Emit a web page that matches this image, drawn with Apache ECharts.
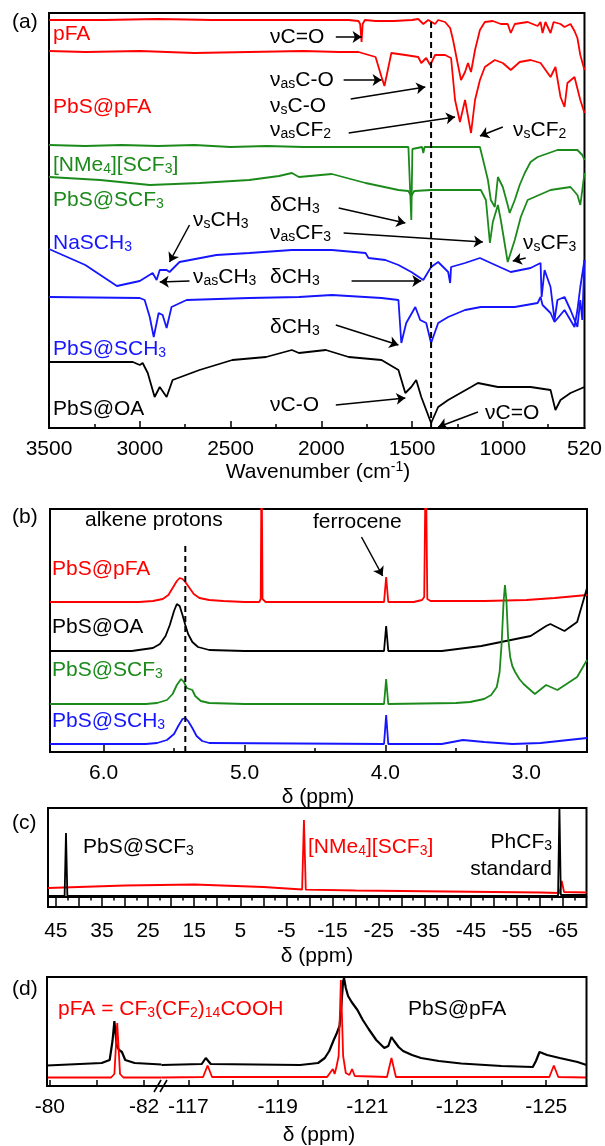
<!DOCTYPE html>
<html>
<head>
<meta charset="utf-8">
<script src="https://cdn.jsdelivr.net/npm/echarts@6/dist/echarts.min.js"></script>
<style>
html,body{margin:0;padding:0;background:#fff;}
#chart{width:605px;height:1146px;}
</style>
</head>
<body>
<div id="chart"></div>
<script>
// (a) FTIR: [wavenumber, offset transmittance (arb.)]
var irPFA = [[3500,408],[3200,408],[2900,409],[2600,408],[2300,408],[2000,408],[1850,408],[1795,407],[1786,404],[1778,386],[1772,404],[1760,408],[1700,407],[1600,407],[1500,408],[1466,409],[1438,404],[1411,408],[1373,404],[1356,408],[1318,406],[1290,400],[1274,388],[1247,363],[1230,348],[1208,356],[1192,365],[1175,356],[1153,378],[1126,398],[1099,406],[1055,407],[1011,404],[973,404],[956,395],[934,404],[863,406],[808,402],[792,406],[781,395],[765,406],[737,395],[720,406],[682,404],[660,401],[627,404],[605,397],[589,390],[573,373],[550,358]];
var irPbSpFA = [[3500,377],[3300,376],[3000,377],[2700,375],[2400,376],[2100,377],[1900,376],[1795,376],[1701,371],[1668,351],[1652,342],[1630,361],[1614,375],[1537,373],[1466,371],[1449,365],[1422,370],[1400,363],[1373,373],[1318,373],[1285,370],[1263,328],[1236,306],[1208,328],[1175,295],[1153,328],[1126,348],[1099,361],[1044,368],[1000,365],[956,358],[907,366],[847,368],[792,365],[737,351],[710,361],[682,331],[660,321],[644,345],[605,351],[573,328],[550,315]];
var irNMe4SCF3 = [[3500,283],[3300,282],[3100,283],[2900,282],[2700,283],[2500,281],[2300,282],[2100,281],[1900,281],[1700,281],[1520,281],[1510,279],[1504,208],[1498,279],[1490,281],[1445,281],[1438,275],[1431,281],[1300,281],[1126,281],[1099,261],[1082,248],[1066,228],[1044,221],[1027,251],[1000,241],[973,223],[962,215],[934,228],[907,243],[879,255],[847,266],[808,271],[699,278],[589,278],[562,273],[550,268]];
var irPbSSCF3 = [[3500,251],[3218,248],[2945,243],[2671,245],[2397,248],[2233,252],[2162,255],[2123,251],[1942,254],[1756,245],[1575,238],[1521,237],[1504,232],[1488,237],[1395,238],[1121,238],[1093,228],[1071,185],[1055,206],[1027,223],[1011,208],[973,166],[934,188],[901,211],[863,228],[737,238],[627,241],[589,233],[573,223],[562,238],[550,255]];
var irNaSCH3 = [[3500,179],[3300,163],[3126,142],[3000,147],[2929,155],[2907,148],[2890,158],[2879,160],[2852,158],[2836,156],[2781,166],[2578,173],[2397,175],[2162,178],[1942,178],[1756,175],[1740,170],[1647,168],[1575,163],[1504,156],[1438,148],[1395,161],[1356,166],[1301,156],[1290,145],[1285,161],[1208,165],[1126,170],[1066,165],[956,156],[847,160],[792,165],[786,131],[770,158],[737,141],[715,108],[699,128],[660,131],[627,118],[589,101],[573,128],[562,108],[550,168]];
var irPbSSCH3 = [[3500,131],[3000,130],[2973,128],[2945,111],[2923,91],[2896,115],[2874,113],[2852,100],[2825,121],[2742,128],[2397,130],[2123,131],[1942,133],[1668,130],[1575,128],[1559,85],[1532,105],[1482,121],[1455,108],[1422,105],[1395,85],[1356,105],[1301,111],[1208,118],[1121,121],[934,121],[808,125],[792,131],[781,123],[737,115],[715,106],[660,118],[605,101],[589,118],[573,141],[550,168]];
var irPbSOA = [[3500,66],[3038,66],[3000,63],[2984,65],[2956,55],[2918,31],[2890,41],[2852,31],[2819,48],[2671,58],[2490,68],[2304,71],[2162,78],[2123,75],[1975,78],[1849,71],[1668,68],[1575,58],[1537,35],[1504,41],[1477,48],[1449,31],[1395,5],[1356,21],[1301,28],[1175,41],[1137,45],[1027,41],[847,41],[737,38],[710,18],[682,28],[627,35],[550,41]];
var irGuide = [[1395,0],[1395,410]];
var irTicks = [3500,3000,2500,2000,1500,1000];
var irMinorTicks = [3250,2750,2250,1750,1250,750];
var irLabelAt = [3500,3000,2500,2000,1500,1000,550];
var irLabels = ['3500','3000','2500','2000','1500','1000','520'];
// arrows: [x tail, y tail, x head, y head]
var irArrows = [[1920,391,1778,391],[1877,348,1668,348],[1838,329,1427,341],[1849,295,1263,311],[1000,301,1126,292],[1904,220,1537,205],[1877,195,1110,186],[874,170,945,167],[2726,203,2836,166],[2726,147,2890,146],[1833,147,1449,147],[1920,103,1575,83],[1920,23,1537,30],[1137,16,1356,1]];

// (b) 1H NMR: [ppm, offset intensity]
var hPbSpFA = [[6.38,150],[6.0,150],[5.75,150],[5.65,151],[5.58,153],[5.54,157],[5.51,164],[5.48,171],[5.46,174],[5.44,173],[5.42,170],[5.39,164],[5.36,158],[5.32,154],[5.25,152],[5.15,151],[5.0,150],[4.895,150],[4.885,153],[4.879,300],[4.872,153],[4.85,150],[4.2,150],[4.01,150],[3.995,175],[3.98,150],[3.8,150],[3.74,152],[3.725,155],[3.714,300],[3.703,153],[3.68,151],[3.3,151],[3.0,152],[2.8,154],[2.57,157]];
var hPbSOA = [[6.38,101],[5.8,101],[5.75,102],[5.65,104],[5.6,108],[5.56,116],[5.53,127],[5.5,141],[5.48,148],[5.46,146],[5.44,137],[5.42,127],[5.4,118],[5.37,110],[5.33,105],[5.25,102],[5.0,101],[4.01,101],[3.995,126],[3.98,101],[3.6,101],[3.32,106],[2.97,116],[2.86,126],[2.83,128],[2.73,121],[2.64,130],[2.57,164]];
var hPbSSCF3 = [[6.38,48],[5.7,48],[5.62,49],[5.55,52],[5.51,58],[5.48,67],[5.45,73],[5.43,70],[5.41,64],[5.39,63],[5.37,62],[5.35,56],[5.31,51],[5.25,49],[5.0,48],[4.01,48],[3.995,73],[3.98,48],[3.5,49],[3.4,50],[3.3,53],[3.25,57],[3.21,65],[3.19,80],[3.175,110],[3.162,150],[3.152,167],[3.142,152],[3.13,115],[3.115,95],[3.1,86],[3.08,80],[3.05,73],[3.02,68],[2.94,58],[2.86,67],[2.78,62],[2.64,75],[2.57,92]];
var hPbSSCH3 = [[6.38,8],[5.7,8],[5.62,9],[5.55,12],[5.5,18],[5.47,26],[5.44,33],[5.42,34],[5.4,31],[5.37,24],[5.34,16],[5.3,11],[5.25,9],[4.01,8],[3.995,37],[3.98,8],[3.6,8],[3.45,12],[3.3,10],[3.1,8],[2.9,9],[2.57,14]];
var hGuide = [[5.42,0],[5.42,210]];
var hTicks = [6,5,4,3];
var hMinorTicks = [5.5,4.5,3.5];
var hArrow = [[4.17,215,4.02,176]];

// (c) 19F NMR wide range
var fPbSSCF3 = [[46.7,11],[43.1,11],[42.8,74],[42.5,11],[0,11],[-40,11],[-63.9,11],[-64.2,100],[-64.5,12],[-70.07,12]];
var fNMe4SCF3 = [[46.7,19],[40,20],[30,21.5],[15,22.5],[0,20],[-8.4,17.5],[-8.8,87],[-9.2,17.3],[-20,16.5],[-40,15.5],[-60,14.5],[-64.2,14],[-64.7,26],[-65.2,15],[-70.07,14.5]];
var fLabels = [45,35,25,15,5,-5,-15,-25,-35,-45,-55,-65];
var fTicks = [45,40,35,30,25,20,15,10,5,0,-5,-10,-15,-20,-25,-30,-35,-40,-45,-50,-55,-60,-65];
var fMinorTicks = [42.5,37.5,32.5,27.5,22.5,17.5,12.5,7.5,2.5,-2.5,-7.5,-12.5,-17.5,-22.5,-27.5,-32.5,-37.5,-42.5,-47.5,-52.5,-57.5,-62.5,-67.5];

// (d) 19F NMR, broken axis
var dPFALeft = [[-79.94,8.5],[-81.3,8.5],[-81.37,12],[-81.43,63],[-81.49,12],[-81.56,8.5],[-82.37,8.5]];
var dPFARight = [[-116.4,8.5],[-117.33,9],[-117.43,20.5],[-117.53,9],[-120.1,9],[-120.23,17],[-120.27,12],[-120.31,19],[-120.36,30],[-120.41,106],[-120.46,30],[-120.52,13],[-120.6,11],[-120.66,17],[-120.72,10],[-121.44,9],[-121.54,28],[-121.64,9],[-125.07,9],[-125.17,20.5],[-125.27,9],[-125.9,8.5]];
var dPbSLeft = [[-79.94,20.5],[-81.1,23],[-81.27,26],[-81.33,45],[-81.37,65],[-81.42,40],[-81.47,36],[-81.53,34],[-81.6,26],[-81.8,23],[-82.37,21.5]];
var dPbSRight = [[-116.4,21],[-117.3,22],[-117.39,28],[-117.5,22],[-119.5,21],[-119.9,23],[-120.05,28],[-120.15,35],[-120.25,46],[-120.32,53],[-120.38,60],[-120.42,80],[-120.46,105],[-120.48,108],[-120.52,98],[-120.57,90],[-120.65,84],[-120.78,76],[-120.9,66],[-121.03,57],[-121.2,46],[-121.38,38],[-121.47,40],[-121.54,49],[-121.6,45],[-121.7,39],[-121.8,35],[-122.0,31],[-122.2,28],[-122.6,25],[-123.1,22.5],[-124.0,20],[-124.7,19],[-124.77,25],[-124.85,34],[-125.02,31],[-125.3,28],[-125.7,24],[-125.9,21]];
var dLeftTicks = [-80,-81,-82];
var dLeftLabels = [-80,-82];
var dRightTicks = [-117,-118,-119,-120,-121,-122,-123,-124,-125];
var dRightLabels = [-117,-119,-121,-123,-125];

var FONT = '"Liberation Sans", Arial, sans-serif';
var FS = 21;
var RED = '#ff0000', GREEN = '#1b8a1b', BLUE = '#1515ff', BLACK = '#000000';

function richFor(color) {
	return {
		s: {fontSize: 14, fontFamily: FONT, fill: color, color: color, verticalAlign: 'bottom', lineHeight: 9},
		p: {fontSize: 14, fontFamily: FONT, fill: color, color: color, verticalAlign: 'top', lineHeight: 9}
	};
}
function txt(x, y, text, color, align) {
	return {
		type: 'text', x: x, y: y, silent: true, z: 100,
		style: {text: text, fill: color, fontSize: FS, fontFamily: FONT, align: align || 'left',
			verticalAlign: 'middle', lineHeight: 23, rich: richFor(color)}
	};
}
function trace(data, color, idx, width, dash) {
	return {
		type: 'line', data: data, xAxisIndex: idx, yAxisIndex: idx,
		showSymbol: false, symbol: 'none', silent: true, animation: false,
		lineStyle: {color: color, width: width || 1.8, type: dash || 'solid'}
	};
}
function arrows(list) {
	return {
		silent: true, animation: false, symbol: ['none', 'arrow'], symbolSize: 9,
		label: {show: false},
		lineStyle: {color: BLACK, width: 1.5, type: 'solid'},
		data: list.map(function (a) { return [{coord: [a[0], a[1]]}, {coord: [a[2], a[3]]}]; })
	};
}
function xAxis(grid, min, max, ticks, len, labels, extra) {
	var ax = {
		gridIndex: grid, type: 'value', inverse: true, min: min, max: max, position: 'bottom',
		splitLine: {show: false},
		axisLine: {show: true, lineStyle: {color: BLACK, width: 2}},
		axisTick: {show: true, inside: true, length: len, customValues: ticks, lineStyle: {color: BLACK, width: 1.5}},
		axisLabel: labels ? {show: true, customValues: labels, color: BLACK, fontSize: FS, fontFamily: FONT, margin: 11} : {show: false}
	};
	if (extra) { for (var k in extra) ax[k] = extra[k]; }
	return ax;
}
function yAxis(grid, max) {
	return {gridIndex: grid, type: 'value', min: 0, max: max, show: false, splitLine: {show: false}};
}

var chart = echarts.init(document.getElementById('chart'));

var xAxes = [
	xAxis(0, 550, 3500, irTicks, 7, irLabelAt),
	xAxis(1, 2.57, 6.38, hTicks, 7, hTicks),
	xAxis(2, -70.07, 46.7, fTicks, 10.5, fLabels),
	xAxis(3, -82.37, -79.94, dLeftTicks, 6, dLeftLabels),
	xAxis(4, -125.9, -116.4, dRightTicks, 6, dRightLabels),
	xAxis(0, 550, 3500, irMinorTicks, 4, null, {axisLine: {show: false}}),
	xAxis(1, 2.57, 6.38, hMinorTicks, 4, null, {axisLine: {show: false}}),
	xAxis(2, -70.07, 46.7, fMinorTicks, 4, null, {axisLine: {show: false}, offset: -10.5})
];
xAxes[0].axisLabel.formatter = function (v) { return irLabels[irLabelAt.indexOf(v)]; };
xAxes[1].axisLabel.formatter = function (v) { return v.toFixed(1); };
xAxes[2].offset = -10.5;
xAxes[2].axisTick.inside = false;
xAxes[7].axisTick.inside = false;
xAxes[2].axisLabel.margin = 24;

var yAxes = [yAxis(0, 415), yAxis(1, 243), yAxis(2, 99), yAxis(3, 109), yAxis(4, 109)];

var series = [];
var s0 = trace(irPFA, RED, 0);
s0.markLine = arrows(irArrows);
series.push(s0);
series.push(trace(irPbSpFA, RED, 0));
series.push(trace(irNMe4SCF3, GREEN, 0));
series.push(trace(irPbSSCF3, GREEN, 0));
series.push(trace(irNaSCH3, BLUE, 0));
series.push(trace(irPbSSCH3, BLUE, 0));
series.push(trace(irPbSOA, BLACK, 0));
series.push(trace(irGuide, BLACK, 0, 2, [6, 4]));

var s1 = trace(hPbSpFA, RED, 1);
s1.markLine = arrows(hArrow);
series.push(s1);
series.push(trace(hPbSOA, BLACK, 1));
series.push(trace(hPbSSCF3, GREEN, 1));
series.push(trace(hPbSSCH3, BLUE, 1));
series.push(trace(hGuide, BLACK, 1, 2, [6, 4]));

series.push(trace(fNMe4SCF3, RED, 2));
series.push(trace(fPbSSCF3, BLACK, 2));

series.push(trace(dPbSLeft, BLACK, 3, 2.2));
series.push(trace(dPFALeft, RED, 3));
series.push(trace(dPbSRight, BLACK, 4, 2.2));
series.push(trace(dPFARight, RED, 4));

var texts = [
	txt(12, 22, '(a)', BLACK), txt(12, 517, '(b)', BLACK), txt(12, 823, '(c)', BLACK), txt(12, 989, '(d)', BLACK),
	txt(53, 34, 'pFA', RED),
	txt(53, 107, 'PbS@pFA', RED),
	txt(53, 165, '[NMe{s|4}][SCF{s|3}]', GREEN),
	txt(53, 200, 'PbS@SCF{s|3}', GREEN),
	txt(53, 243, 'NaSCH{s|3}', BLUE),
	txt(53, 349, 'PbS@SCH{s|3}', BLUE),
	txt(53, 409, 'PbS@OA', BLACK),
	txt(270, 37, 'νC=O', BLACK),
	txt(270, 80, 'ν{s|as}C-O', BLACK),
	txt(270, 106, 'ν{s|s}C-O', BLACK),
	txt(270, 130, 'ν{s|as}CF{s|2}', BLACK),
	txt(513, 130, 'ν{s|s}CF{s|2}', BLACK),
	txt(270, 205, 'δCH{s|3}', BLACK),
	txt(270, 233, 'ν{s|as}CF{s|3}', BLACK),
	txt(523, 243, 'ν{s|s}CF{s|3}', BLACK),
	txt(193, 220, 'ν{s|s}CH{s|3}', BLACK),
	txt(193, 277, 'ν{s|as}CH{s|3}', BLACK),
	txt(270, 277, 'δCH{s|3}', BLACK),
	txt(270, 327, 'δCH{s|3}', BLACK),
	txt(270, 405, 'νC-O', BLACK),
	txt(485, 413, 'νC=O', BLACK),
	txt(318, 472, 'Wavenumber (cm{p|-1})', BLACK, 'center'),
	txt(85, 520, 'alkene protons', BLACK),
	txt(313, 522, 'ferrocene', BLACK),
	txt(52, 569, 'PbS@pFA', RED),
	txt(52, 627, 'PbS@OA', BLACK),
	txt(52, 670, 'PbS@SCF{s|3}', GREEN),
	txt(52, 721, 'PbS@SCH{s|3}', BLUE),
	txt(318, 797, 'δ (ppm)', BLACK, 'center'),
	txt(83, 847, 'PbS@SCF{s|3}', BLACK),
	txt(308, 847, '[NMe{s|4}][SCF{s|3}]', RED),
	txt(552, 842, 'PhCF{s|3}', BLACK, 'right'),
	txt(552, 869, 'standard', BLACK, 'right'),
	txt(317, 956, 'δ (ppm)', BLACK, 'center'),
	txt(58, 1009, 'pFA = CF{s|3}(CF{s|2}){s|14}COOH', RED),
	txt(408, 1009, 'PbS@pFA', BLACK),
	txt(319, 1135, 'δ (ppm)', BLACK, 'center')
];
var shapes = [
	{type: 'rect', silent: true, z: 90, shape: {x: 47, y: 977, width: 539.5, height: 109}, style: {fill: 'none', stroke: BLACK, lineWidth: 2}},
	{type: 'line', silent: true, z: 91, shape: {x1: 154, y1: 1092, x2: 161, y2: 1080}, style: {stroke: BLACK, lineWidth: 1.6}},
	{type: 'line', silent: true, z: 91, shape: {x1: 160, y1: 1092, x2: 167, y2: 1080}, style: {stroke: BLACK, lineWidth: 1.6}}
];

var option = {
	animation: false,
	backgroundColor: '#fff',
	grid: [
		{left: 49, top: 13, width: 538, height: 415, show: true, borderColor: BLACK, borderWidth: 2},
		{left: 50, top: 509, width: 537, height: 243, show: true, borderColor: BLACK, borderWidth: 2},
		{left: 48, top: 808, width: 538.5, height: 99, show: true, borderColor: BLACK, borderWidth: 2},
		{left: 47, top: 977, width: 114.5, height: 109},
		{left: 161.5, top: 977, width: 425, height: 109}
	],
	xAxis: xAxes,
	yAxis: yAxes,
	series: series,
	graphic: texts.concat(shapes)
};
chart.setOption(option);
</script>
</body>
</html>
